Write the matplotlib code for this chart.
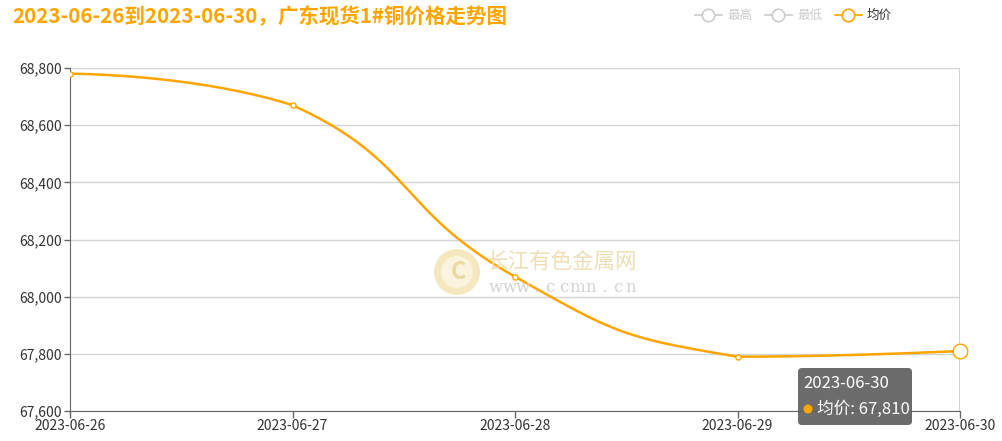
import matplotlib

matplotlib.use("Agg")
import matplotlib.pyplot as plt
import numpy as np
from matplotlib.patches import FancyBboxPatch, Circle

plt.rcParams["font.family"] = ["Noto Sans CJK SC", "DejaVu Sans"]

dates = ["2023-06-26", "2023-06-27", "2023-06-28", "2023-06-29", "2023-06-30"]
avg_price = [68780, 68670, 68070, 67790, 67810]
y_ticks = [67600, 67800, 68000, 68200, 68400, 68600, 68800]
legend_names = ["最高", "最低", "均价"]
title = "2023-06-26到2023-06-30，广东现货1#铜价格走势图"
watermark = "长江有色金属网"
watermark_url = "www.ccmn.cn"

ORANGE = "#FFA500"
W, H = 1003, 441
L, R, T, B = 70, 960, 68, 411


def smooth_curve(px, py, smooth=0.5, n=40):
    # echarts 4 style bezier smoothing (pixel space), control points kept in the points' bounding box
    pts = np.column_stack([px, py]).astype(float)
    lo, hi = pts.min(axis=0), pts.max(axis=0)
    k = len(pts)
    t = np.linspace(0, 1, n)[:, None]
    out = []
    cp0 = pts[0].copy()
    for i in range(1, k):
        prev, p = pts[i - 1], pts[i]
        if i == k - 1:
            cp1 = p.copy()
            v = np.zeros(2)
            ratio = 0.5
        else:
            nxt = pts[i + 1]
            v = nxt - prev
            len_prev = np.hypot(*(p - prev))
            len_next = np.hypot(*(nxt - p))
            ratio = len_next / (len_next + len_prev)
            cp1 = p - v * smooth * (1 - ratio)
        cp0 = np.clip(cp0, lo, hi)
        cp1 = np.clip(cp1, lo, hi)
        seg = ((1 - t) ** 3) * prev + 3 * ((1 - t) ** 2) * t * cp0 + 3 * (1 - t) * t ** 2 * cp1 + t ** 3 * p
        out.append(seg)
        cp0 = p + v * smooth * ratio
    out = np.vstack(out)
    return out[:, 0], out[:, 1]


fig = plt.figure(figsize=(W / 100, H / 100), dpi=100)
ax = fig.add_axes([L / W, 1 - B / H, (R - L) / W, (B - T) / H])

x = np.arange(len(dates))
ymin, ymax = y_ticks[0], y_ticks[-1]
sx = (R - L) / (len(dates) - 1)
sy = (B - T) / (ymax - ymin)
cx, cy = smooth_curve(x * sx, (np.array(avg_price) - ymin) * sy)
ax.plot(cx / sx, cy / sy + ymin, color=ORANGE, lw=1.8, zorder=3, solid_capstyle="round")
ax.scatter(x[:-1], avg_price[:-1], s=14, facecolor="white", edgecolor=ORANGE, lw=1, zorder=4)
ax.scatter(x[-1:], avg_price[-1:], s=110, facecolor="white", edgecolor=ORANGE, lw=1, zorder=4, clip_on=False)

ax.set_xlim(0, len(dates) - 1)
ax.set_ylim(ymin, ymax)
ax.set_yticks(y_ticks)
ax.set_yticklabels([f"{v:,}" for v in y_ticks])
ax.set_xticks(x)
ax.set_xticklabels(dates)
ax.grid(axis="y", color="#d4d4d4", lw=1)
ax.set_axisbelow(True)
for s in ["top", "right"]:
    ax.spines[s].set_visible(False)
ax.spines["left"].set_color("#666666")
ax.spines["bottom"].set_color("#666666")
ax.tick_params(axis="both", colors="#666666", labelcolor="#333333", labelsize=10, width=1)
ax.tick_params(axis="y", length=4, pad=2)
ax.tick_params(axis="x", length=5, pad=1)
# axis pointer at hovered point
ax.axvline(x[-1], color="#cccccc", lw=1.2, zorder=1)

# title
fig.text(12 / W, 1 - 17 / H, title, color=ORANGE, fontsize=14.8, fontweight="bold", va="center", ha="left")

# legend
leg_x = [695, 765, 835]
for name, lx in zip(legend_names, leg_x):
    c = ORANGE if name == "均价" else "#cccccc"
    tc = "#333333" if name == "均价" else "#cccccc"
    yy = 1 - 15 / H
    fig.add_artist(plt.Line2D([lx / W, (lx + 27) / W], [yy, yy], color=c, lw=1.2))
    fig.add_artist(plt.Line2D([(lx + 13.5) / W], [yy], marker="o", ms=9, mfc="white", mec=c, mew=1.2))
    fig.text((lx + 32) / W, yy, name, color=tc, fontsize=9, va="center", ha="left")

# watermark
wm = fig.add_axes([0, 0, 1, 1], facecolor="none")
wm.set_xlim(0, W)
wm.set_ylim(H, 0)
wm.axis("off")
wm.add_patch(Circle((457, 272), 23, facecolor="#f3e3b0", edgecolor="none", alpha=0.8))
wm.add_patch(Circle((457, 272), 16, facecolor="#fbf4df", edgecolor="none", alpha=0.95))
wm.text(458, 272, "C", color="#ead9a2", fontsize=17, fontweight="bold", ha="center", va="center")
wm.text(487, 262, watermark, color="#eedfb6", fontsize=15.5, ha="left", va="center")
for i, ch in enumerate(watermark_url):
    wm.text(496 + i * 13.5, 287, ch, color="#d3d3d3", fontsize=12, family="DejaVu Serif",
            ha="center", va="center")
wm.set_zorder(0.5)

# tooltip
tip = fig.add_axes([0, 0, 1, 1], facecolor="none")
tip.set_xlim(0, W)
tip.set_ylim(H, 0)
tip.axis("off")
tip.add_patch(FancyBboxPatch((798, 368), 114, 57, boxstyle="round,pad=0,rounding_size=4",
                             facecolor="#5f5f5f", edgecolor="none", alpha=0.92))
tip.text(803, 384, dates[-1], color="white", fontsize=12, ha="left", va="center")
tip.add_patch(Circle((808, 409), 4.5, facecolor=ORANGE, edgecolor="none"))
tip.text(817, 409, f"均价: {avg_price[-1]:,}", color="white", fontsize=12, ha="left", va="center")

fig.savefig("out.png", dpi=100)
